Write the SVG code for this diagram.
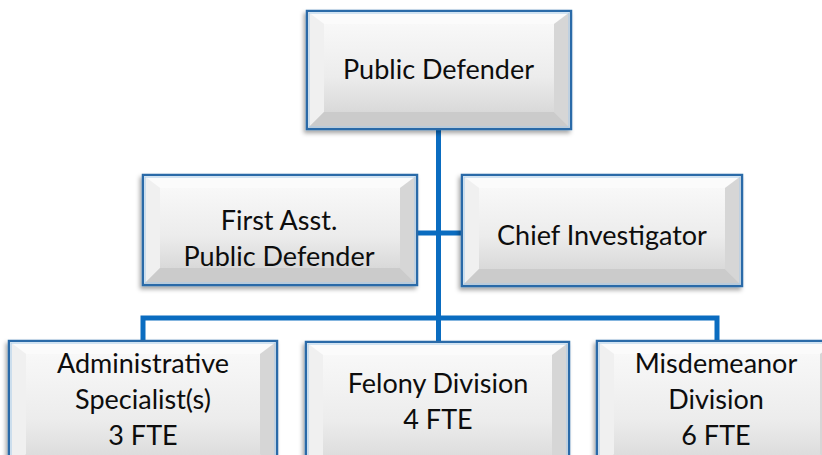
<svg xmlns="http://www.w3.org/2000/svg" width="822" height="455" viewBox="0 0 822 455">
<style>
.lbl{font-family:Lato,"Open Sans","Liberation Sans",sans-serif;font-size:27px;fill:#0d0d0d;text-anchor:middle}
.edge{fill:none;stroke:#0a6cc0;stroke-width:5;stroke-linejoin:miter}
.frame{fill:url(#face);stroke:#2a6aa8;stroke-width:2.5}
.inner{fill:url(#face)}
.bt{fill:#fbfbfb}
.bl{fill:#f0f0f0}
.br{fill:#d6d6d6}
.bb{fill:#cbcbcb}
.hl{fill:none;stroke:#a8cbea;stroke-width:1}
</style>
<defs>
<linearGradient id="face" x1="0" y1="0" x2="0" y2="1">
<stop offset="0" stop-color="#f8f8f8"/>
<stop offset="0.6" stop-color="#ececec"/>
<stop offset="1" stop-color="#d9d9d9"/>
</linearGradient>
<filter id="sh" x="-10%" y="-10%" width="120%" height="130%">
<feDropShadow dx="-2" dy="3" stdDeviation="2" flood-color="#000" flood-opacity="0.35"/>
</filter>
</defs>
<g id="connectors">
<path class="edge" d="M438.5 129 V318"/>
<path class="edge" d="M417 233 H462"/>
<path class="edge" d="M143 341 V318 H717 V341"/>
<path class="edge" d="M438.5 318 V343"/>
</g>
<g id="n-public-defender">
<rect class="frame" x="307" y="11" width="264" height="118" filter="url(#sh)"/>
<polygon class="bt" points="308,12 570,12 554,24 324,24"/>
<polygon class="bl" points="308,12 324,24 324,112 308,128"/>
<polygon class="br" points="570,12 570,128 554,112 554,24"/>
<polygon class="bb" points="308,128 324,112 554,112 570,128"/>
<rect class="inner" x="324" y="24" width="230" height="88"/>
<rect class="hl" x="309" y="13" width="260" height="114"/>
<text class="lbl" x="438.5" y="79">Public Defender</text>
</g>
<g id="n-first-asst">
<rect class="frame" x="143" y="175" width="274" height="110" filter="url(#sh)"/>
<polygon class="bt" points="144,176 416,176 400,188 160,188"/>
<polygon class="bl" points="144,176 160,188 160,268 144,284"/>
<polygon class="br" points="416,176 416,284 400,268 400,188"/>
<polygon class="bb" points="144,284 160,268 400,268 416,284"/>
<rect class="inner" x="160" y="188" width="240" height="80"/>
<rect class="hl" x="145" y="177" width="270" height="106"/>
<text class="lbl" x="279" y="230">First Asst.</text>
<text class="lbl" x="279" y="266">Public Defender</text>
</g>
<g id="n-chief-investigator">
<rect class="frame" x="462" y="175" width="280" height="111" filter="url(#sh)"/>
<polygon class="bt" points="463,176 741,176 725,188 479,188"/>
<polygon class="bl" points="463,176 479,188 479,269 463,285"/>
<polygon class="br" points="741,176 741,285 725,269 725,188"/>
<polygon class="bb" points="463,285 479,269 725,269 741,285"/>
<rect class="inner" x="479" y="188" width="246" height="81"/>
<rect class="hl" x="464" y="177" width="276" height="107"/>
<text class="lbl" x="602" y="245">Chief Investigator</text>
</g>
<g id="n-admin">
<rect class="frame" x="9" y="341" width="268" height="130" filter="url(#sh)"/>
<polygon class="bt" points="10,342 276,342 260,354 26,354"/>
<polygon class="bl" points="10,342 26,354 26,454 10,470"/>
<polygon class="br" points="276,342 276,470 260,454 260,354"/>
<rect class="inner" x="26" y="354" width="234" height="110"/>
<rect class="hl" x="11" y="343" width="264" height="126"/>
<text class="lbl" x="143" y="373">Administrative</text>
<text class="lbl" x="143" y="409">Specialist(s)</text>
<text class="lbl" x="143" y="445">3 FTE</text>
</g>
<g id="n-felony">
<rect class="frame" x="306" y="342" width="263" height="130" filter="url(#sh)"/>
<polygon class="bt" points="307,343 568,343 552,355 323,355"/>
<polygon class="bl" points="307,343 323,355 323,455 307,471"/>
<polygon class="br" points="568,343 568,471 552,455 552,355"/>
<rect class="inner" x="323" y="355" width="229" height="110"/>
<rect class="hl" x="308" y="344" width="259" height="126"/>
<text class="lbl" x="438" y="393">Felony Division</text>
<text class="lbl" x="438" y="429">4 FTE</text>
</g>
<g id="n-misdemeanor">
<rect class="frame" x="597" y="341" width="240" height="130" filter="url(#sh)"/>
<polygon class="bt" points="598,342 836,342 820,354 614,354"/>
<polygon class="bl" points="598,342 614,354 614,454 598,470"/>
<polygon class="br" points="836,342 836,470 820,454 820,354"/>
<rect class="inner" x="614" y="354" width="206" height="110"/>
<rect class="hl" x="599" y="343" width="236" height="126"/>
<text class="lbl" x="716" y="373">Misdemeanor</text>
<text class="lbl" x="716" y="409">Division</text>
<text class="lbl" x="716" y="445">6 FTE</text>
</g>
</svg>
